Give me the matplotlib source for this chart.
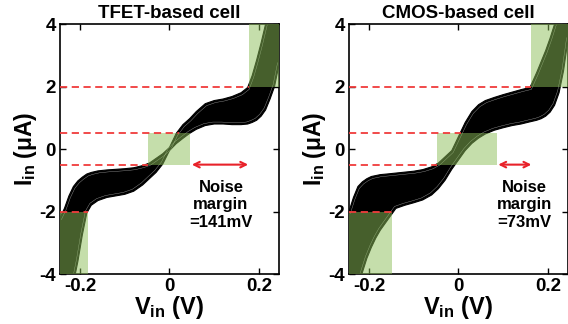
import matplotlib
matplotlib.use('Agg')
import matplotlib.pyplot as plt
import matplotlib.transforms as mtransforms
from matplotlib.patches import Rectangle

plt.rcParams['font.family'] = ['Liberation Sans', 'DejaVu Sans']
plt.rcParams['font.weight'] = 'bold'
plt.rcParams['mathtext.fontset'] = 'custom'
plt.rcParams['mathtext.rm'] = 'Liberation Sans:bold'
plt.rcParams['mathtext.it'] = 'Liberation Sans:bold'
plt.rcParams['mathtext.bf'] = 'Liberation Sans:bold'

# ---------------- data ----------------
v_grid = [-0.245, -0.235, -0.225, -0.215, -0.205, -0.195, -0.185, -0.175, -0.16, -0.14,
          -0.12, -0.10, -0.08, -0.06, -0.045, -0.03, -0.015, 0.0, 0.015, 0.03, 0.045,
          0.06, 0.08, 0.10, 0.12, 0.14, 0.16, 0.175, 0.185, 0.195, 0.205, 0.215, 0.225,
          0.235, 0.245]

tfet_upper = [-2.2, -1.9, -1.5, -1.2, -1.02, -0.9, -0.8, -0.75, -0.7, -0.67,
              -0.65, -0.63, -0.6, -0.53, -0.45, -0.3, -0.15, 0.05, 0.5, 0.78, 0.97,
              1.2, 1.45, 1.55, 1.6, 1.68, 1.8, 1.97, 2.35, 2.85, 3.4, 4.0, 4.7,
              5.5, 6.3]
tfet_lower = [-6.3, -5.5, -4.9, -4.3, -3.6, -2.75, -2.05, -1.8, -1.65, -1.55,
              -1.5, -1.45, -1.35, -1.15, -0.95, -0.75, -0.48, -0.05, 0.17, 0.34, 0.5,
              0.63, 0.75, 0.8, 0.8, 0.78, 0.78, 0.8, 0.85, 0.92, 1.05, 1.25, 1.6,
              2.0, 2.7]

cmos_upper = [-2.0, -1.55, -1.2, -1.05, -0.95, -0.88, -0.85, -0.82, -0.8, -0.77,
              -0.74, -0.71, -0.66, -0.57, -0.45, -0.25, -0.05, 0.4, 0.85, 1.2, 1.42,
              1.55, 1.65, 1.74, 1.82, 1.9, 1.97, 2.45, 2.8, 3.15, 3.55, 4.0, 4.5,
              5.0, 5.5]
cmos_lower = [-5.6, -5.0, -4.4, -3.95, -3.5, -3.15, -2.85, -2.6, -2.3, -1.9,
              -1.8, -1.72, -1.63, -1.47, -1.27, -1.0, -0.65, -0.35, -0.05, 0.18, 0.35,
              0.48, 0.6, 0.68, 0.75, 0.8, 0.87, 0.92, 0.97, 1.05, 1.18, 1.4, 1.8,
              2.5, 3.5]

# green regions: (v_left, v_right, i_bottom, i_top)
tfet_boxes = [(-0.25, -0.182, -4, -2), (-0.048, 0.046, -0.5, 0.5), (0.177, 0.25, 2, 4)]
cmos_boxes = [(-0.25, -0.148, -4, -2), (-0.049, 0.087, -0.5, 0.5), (0.163, 0.25, 2, 4)]

# red dashed levels: (current level, end voltage)
tfet_levels = [(2, 0.177), (0.5, 0.022), (-0.5, -0.048), (-2, -0.182)]
cmos_levels = [(2, 0.163), (0.5, 0.005), (-0.5, -0.049), (-2, -0.148)]

# noise margin arrows (start, end) at I = -0.5
tfet_arrow = (0.050, 0.176)
cmos_arrow = (0.089, 0.163)

tfet_label = 'Noise\nmargin\n=141mV'
cmos_label = 'Noise\nmargin\n=73mV'

titles = ['TFET-based cell', 'CMOS-based cell']
xticks = [-0.2, 0, 0.2]
xticklabels = ['-0.2', '0', '0.2']
yticks = [-4, -2, 0, 2, 4]
yticklabels = ['-4', '-2', '0', '2', '4']

# ---------------- plot ----------------
fig = plt.figure(figsize=(5.68, 3.24), dpi=100)
ax1 = fig.add_axes([0.1056, 0.1543, 0.3856, 0.7716])
ax2 = fig.add_axes([0.6144, 0.1543, 0.3856, 0.7716])

XLIM = (-0.245, 0.245)

panels = [
    (ax1, tfet_upper, tfet_lower, tfet_boxes, tfet_levels, tfet_arrow, tfet_label, 0.115, titles[0]),
    (ax2, cmos_upper, cmos_lower, cmos_boxes, cmos_levels, cmos_arrow, cmos_label, 0.147, titles[1]),
]

for ax, up, lo, boxes, levels, arrow, label, tx, title in panels:
    band = ax.fill_between(v_grid, lo, up, color='black', lw=0, zorder=2)
    ax.plot(v_grid, up, color='black', lw=0.8, zorder=2)
    ax.plot(v_grid, lo, color='black', lw=0.8, zorder=2)
    # faint gap between the outermost traces (rendering texture only)
    for curve, sx in ((up, 1), (lo, -1)):
        tr = mtransforms.offset_copy(ax.transData, fig=fig, x=sx * 1.0,
                                     y=-sx * 1.4, units='points')
        ln, = ax.plot(v_grid, curve, color='white', lw=0.3, alpha=0.6,
                      transform=tr, zorder=2.1)
        ln.set_clip_path(band.get_paths()[0], ax.transData)
    for x0, x1, y0, y1 in boxes:
        ax.add_patch(Rectangle((x0, y0), x1 - x0, y1 - y0, facecolor=(0.55, 0.75, 0.35),
                               alpha=0.5, lw=0, zorder=3))
    for y, xend in levels:
        ax.plot([XLIM[0], xend], [y, y], color='#f03c3c', ls=(0, (4, 2.5)), lw=1.3, zorder=4)
    ax.annotate('', xy=(arrow[1], -0.5), xytext=(arrow[0], -0.5),
                arrowprops=dict(arrowstyle='<->', color='#e8222a', lw=1.5,
                                shrinkA=0, shrinkB=0, mutation_scale=10), zorder=5)
    ax.text(tx, -1.78, label, ha='center', va='center', fontsize=12, fontweight='bold',
            linespacing=1.2)
    ax.set_xlim(*XLIM)
    ax.set_ylim(-4, 4)
    ax.set_xticks(xticks)
    ax.set_xticklabels(xticklabels)
    ax.set_yticks(yticks)
    ax.set_yticklabels(yticklabels)
    ax.tick_params(direction='in', top=True, right=True, length=4, width=1,
                   labelsize=13.5, pad=3)
    for s in ax.spines.values():
        s.set_linewidth(1.2)
    ax.set_title(title, fontsize=13.5, fontweight='bold', pad=4)
    ax.set_xlabel(r'V$_{\mathrm{in}}$ (V)', fontsize=17, fontweight='bold', labelpad=-1)
    ax.set_ylabel(r'I$_{\mathrm{in}}$ ($\mu$A)', fontsize=16.5, fontweight='bold', labelpad=0)

fig.savefig('out.png', dpi=100)
